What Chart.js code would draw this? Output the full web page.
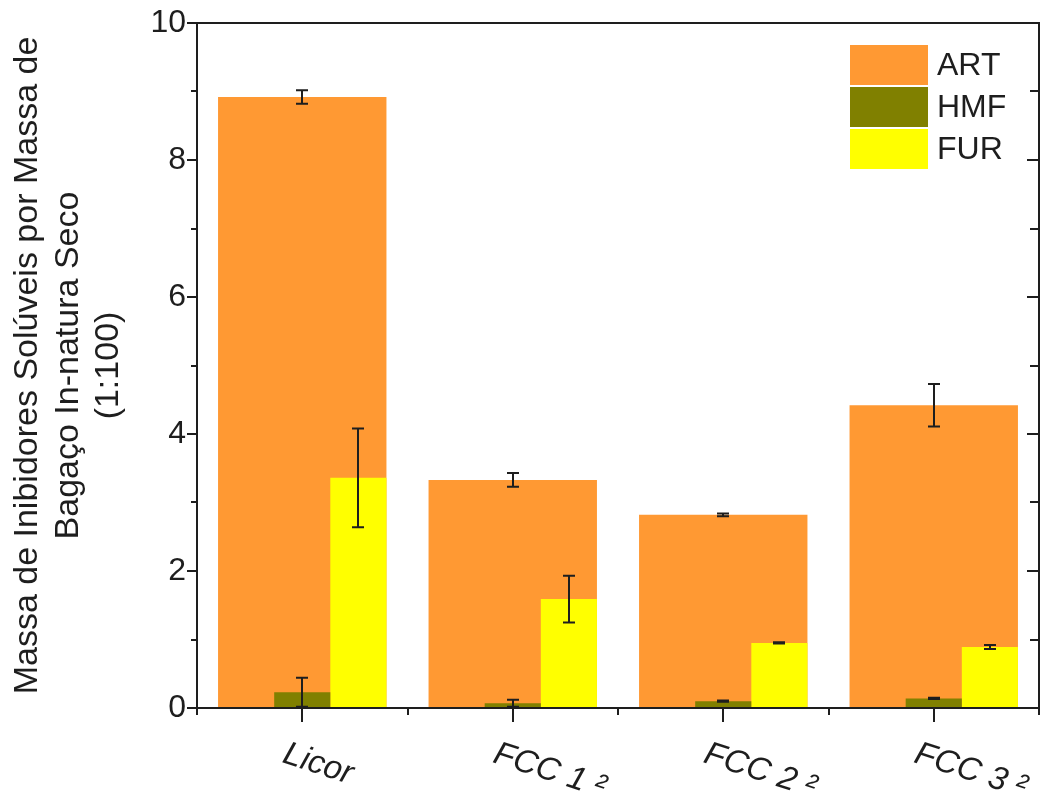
<!DOCTYPE html>
<html><head><meta charset="utf-8">
<script src="https://cdn.jsdelivr.net/npm/chart.js@4/dist/chart.umd.min.js"></script>
<style>html,body{margin:0;padding:0;background:#fff}canvas{display:block}</style>
</head><body>
<canvas id="c" width="1045" height="800"></canvas>
<script>
const categories = ['Licor', 'FCC 1 ²', 'FCC 2 ²', 'FCC 3 ²'];
const seriesNames = ['ART', 'HMF', 'FUR'];
const artValues = [8.92, 3.33, 2.82, 4.42];
const artErrors = [0.10, 0.10, 0.02, 0.31];
const hmfValues = [0.23, 0.07, 0.10, 0.14];
const hmfErrors = [0.21, 0.05, 0.01, 0.01];
const furValues = [3.36, 1.59, 0.95, 0.89];
const furErrors = [0.72, 0.34, 0.01, 0.03];
const yTicks = [0, 2, 4, 6, 8, 10];
const yMinorTicks = [1, 3, 5, 7, 9];
const yTitle = ['Massa de Inibidores Solúveis por Massa de', 'Bagaço In-natura Seco', '(1:100)'];

const FONT = "'Liberation Sans', Arial, sans-serif";
const INK = '#1e1e1e';

const frameAndTicks = {
  id: 'frameAndTicks',
  afterDraw(chart) {
    const {ctx, chartArea: a, scales: {x, y}} = chart;
    ctx.save();
    ctx.strokeStyle = INK;
    ctx.lineWidth = 2;
    ctx.strokeRect(a.left, a.top, a.right - a.left, a.bottom - a.top);
    ctx.beginPath();
    yMinorTicks.forEach(v => {
      const py = Math.round(y.getPixelForValue(v));
      ctx.moveTo(a.left - 6, py); ctx.lineTo(a.left, py);
      ctx.moveTo(a.right, py); ctx.lineTo(a.right - 9, py);
    });
    yTicks.forEach(v => {
      const py = Math.round(y.getPixelForValue(v));
      ctx.moveTo(a.right, py); ctx.lineTo(a.right - 12, py);
    });
    const step = categories.length > 1 ? x.getPixelForValue(1) - x.getPixelForValue(0) : (a.right - a.left);
    categories.forEach((c, i) => {
      const px = Math.round(x.getPixelForValue(i));
      ctx.moveTo(px, a.bottom); ctx.lineTo(px, a.bottom + 14);
    });
    for (let i = 0; i <= categories.length; i++) {
      const px = Math.round(x.getPixelForValue(0) - step / 2 + i * step);
      ctx.moveTo(px, a.bottom); ctx.lineTo(px, a.bottom + 7);
    }
    ctx.stroke();
    ctx.fillStyle = INK;
    ctx.font = 'italic 33px ' + FONT;
    ctx.textAlign = 'left';
    ctx.textBaseline = 'alphabetic';
    categories.forEach((c, i) => {
      const px = x.getPixelForValue(i);
      ctx.save();
      ctx.translate(px - 21, a.bottom + 54);
      ctx.rotate(18 * Math.PI / 180);
      ctx.fillText(c, 0, 0);
      ctx.restore();
    });
    const items = chart.data.datasets.filter(d => d.label);
    const boxW = 78, boxH = 40, rowH = 42;
    const bx = a.right - 189, by = a.top + 22;
    ctx.font = '32px ' + FONT;
    ctx.textBaseline = 'middle';
    items.forEach((d, k) => {
      ctx.fillStyle = d.backgroundColor;
      ctx.fillRect(bx, by + k * rowH, boxW, boxH);
      ctx.fillStyle = INK;
      ctx.fillText(d.label, bx + boxW + 9, by + k * rowH + boxH / 2 + 1);
    });
    ctx.restore();
  }
};

const errorBars = {
  id: 'errorBars',
  afterDatasetsDraw(chart) {
    const {ctx, scales: {y}} = chart;
    ctx.save();
    ctx.strokeStyle = INK;
    ctx.lineWidth = 2;
    chart.data.datasets.forEach((d, di) => {
      if (!d.errorBars) return;
      const meta = chart.getDatasetMeta(di);
      meta.data.forEach((el, i) => {
        const v = d.data[i], e = d.errorBars[i];
        if (v == null || e == null) return;
        const top = y.getPixelForValue(v + e), bot = y.getPixelForValue(v - e);
        const cx = Math.round(el.x);
        ctx.beginPath();
        ctx.moveTo(cx, top); ctx.lineTo(cx, bot);
        ctx.moveTo(cx - 6, top); ctx.lineTo(cx + 6, top);
        ctx.moveTo(cx - 6, bot); ctx.lineTo(cx + 6, bot);
        ctx.stroke();
      });
    });
    ctx.restore();
  }
};

new Chart(document.getElementById('c'), {
  type: 'bar',
  data: {
    labels: categories,
    datasets: [
      { label: seriesNames[0], data: artValues, errorBars: artErrors, backgroundColor: '#FF9933',
        grouped: false, order: 1 },
      { label: '', data: categories.map(() => null), backgroundColor: 'rgba(0,0,0,0)', order: 0 },
      { label: seriesNames[1], data: hmfValues, errorBars: hmfErrors, backgroundColor: '#808000', order: 0 },
      { label: seriesNames[2], data: furValues, errorBars: furErrors, backgroundColor: '#FFFF00', order: 0 }
    ]
  },
  options: {
    responsive: false,
    animation: false,
    devicePixelRatio: 1,
    categoryPercentage: 0.8,
    barPercentage: 1,
    borderWidth: 0,
    layout: { padding: { top: 23, right: 6, bottom: 92, left: 0 } },
    plugins: { legend: { display: false }, tooltip: { enabled: false } },
    scales: {
      x: { type: 'category', display: false, offset: true },
      y: {
        min: 0, max: 10,
        afterBuildTicks: s => { s.ticks = yTicks.map(v => ({ value: v })); },
        afterFit: s => { s.width = 197; },
        border: { display: false },
        grid: { display: true, drawOnChartArea: false, drawTicks: true, tickLength: 10, color: INK, lineWidth: 2 },
        ticks: { font: { family: FONT, size: 32 }, color: INK, padding: 1 },
        title: { display: true, text: yTitle, color: INK,
                 font: { family: FONT, size: 34, lineHeight: 1.2 }, padding: { top: 7, bottom: 0 } }
      }
    }
  },
  plugins: [errorBars, frameAndTicks]
});
</script>
</body></html>
